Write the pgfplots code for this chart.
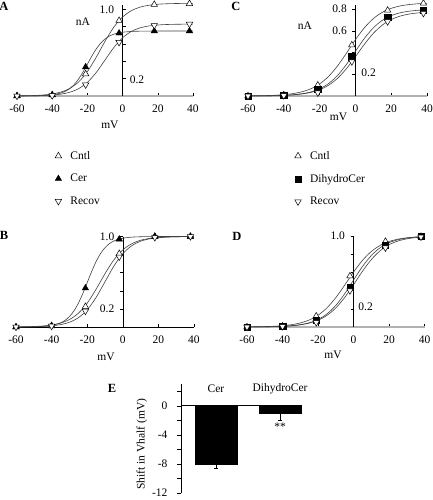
\documentclass[border=0pt]{standalone}
\usepackage{fontspec}
\setmainfont{Liberation Serif}
\usepackage{pgfplots}
\pgfplotsset{compat=1.18}
\newcommand\tf{\fontsize{11.5}{13}\selectfont}
\pgfplotsset{
  iv/.style={
    scale only axis, clip=false,
    axis lines*=middle,
    xmin=-60, xmax=40, ymin=0,
    xtick={-60,-40,-20,0,20,40},
    hide obscured x ticks=false, hide obscured y ticks=false,
    tick align=inside, major tick length=3pt,
    tick style={black, line width=0.5pt},
    x axis line style={gray!60, line width=1.2pt},
    y axis line style={black, line width=0.5pt},
    tick label style={font=\tf},
    xticklabel style={yshift=-5pt},
    yticklabel style={xshift=-5pt},
    /pgf/number format/assume math mode=true,
    xlabel={mV}, xlabel style={font=\tf, anchor=center},
    legend cell align=left,
    legend style={draw=none, fill=none, font=\tf, row sep=9.5pt, anchor=north west},
  },
  legimg/.style={legend image code/.code={\path[draw=none,fill=none] (0pt,0pt) -- (16pt,0pt); \path[##1] plot[only marks] coordinates {(6pt,0pt)};}},
  fitc/.style={black!75, line width=0.6pt, smooth, no marks, forget plot},
  mCntl/.style={only marks, mark=triangle*, mark size=3.7pt, mark options={fill=white, draw=black, line width=0.5pt}, legimg},
  mCer/.style={only marks, mark=triangle*, mark size=3.7pt, mark options={fill=black, draw=black}, legimg},
  mRec/.style={only marks, mark=triangle*, mark size=3.7pt, mark options={rotate=180, fill=white, draw=black, line width=0.5pt}, legimg},
  mDih/.style={only marks, mark=square*, mark size=3.2pt, mark options={fill=black, draw=black}, legimg},
}
\begin{document}
\begin{tikzpicture}
\useasboundingbox (0,0) rectangle (432pt,-500pt);

% ---------------- A ----------------
\begin{axis}[iv, at={(17pt,-96pt)}, anchor=south west, width=176pt, height=91pt, ymax=1.05,
  ytick={0.2,0.4,0.6,0.8,1.0}, yticklabels={,,,,1.0},
  xlabel style={at={(axis description cs:0.528,-0.319)}},
  legend style={at={(axis description cs:0.183,-0.56)}}]
\addplot[fitc] coordinates {(-60,0.0015)(-55,0.003)(-50,0.0059)(-45,0.0118)(-40,0.0233)(-35,0.0456)(-30,0.0876)(-25,0.1622)(-20,0.2818)(-15,0.4466)(-10,0.6306)(-5,0.7937)(0,0.9116)(5,0.9845)(10,1.0256)(15,1.0473)(20,1.0586)(25,1.0642)(30,1.0671)(35,1.0686)(40,1.0693)};
\addplot[fitc] coordinates {(-60,0.0002)(-55,0.0007)(-50,0.0018)(-45,0.0048)(-40,0.0130)(-35,0.0342)(-32.5,0.0548)(-30,0.0863)(-27.5,0.1325)(-25,0.1959)(-22.5,0.2762)(-20,0.3675)(-17.5,0.4598)(-15,0.5423)(-12.5,0.6086)(-10,0.6574)(-7.5,0.6910)(-5,0.7131)(-2.5,0.7272)(0,0.7360)(5,0.7448)(10,0.7481)(15,0.7493)(20,0.7498)(30,0.75)(40,0.75)};
\addplot[fitc] coordinates {(-60,0.0006)(-55,0.0012)(-50,0.0025)(-45,0.0052)(-40,0.0106)(-35,0.0216)(-30,0.0433)(-25,0.0847)(-20,0.1579)(-15,0.2709)(-10,0.4150)(-5,0.5591)(0,0.6721)(5,0.7453)(10,0.7867)(15,0.8084)(20,0.8194)(25,0.8249)(30,0.8275)(35,0.8288)(40,0.8294)};
\addplot[mCntl] coordinates {(-60,0.002)(-40,0.015)(-21,0.254)(-2,0.87)(18,1.055)(38,1.065)};
\addlegendentry{Cntl}
\addplot[mCer] coordinates {(-60,0.0)(-40,0.01)(-21,0.335)(-2,0.725)(18,0.75)(38,0.75)};
\addlegendentry{Cer}
\addplot[mRec] coordinates {(-60,0.0)(-40,0.005)(-21,0.13)(-2,0.62)(18,0.815)(38,0.83)};
\addlegendentry{Recov}
\node[font=\tf] at (axis cs:-22.5,0.857) {nA};
\node[font=\tf] at (axis cs:8.2,0.185) {0.2};
\end{axis}

% ---------------- C ----------------
\begin{axis}[iv, at={(248pt,-96pt)}, anchor=south west, width=179pt, height=91.1pt, ymax=0.84,
  ytick={0.2,0.4,0.6,0.8}, yticklabels={,,0.6,0.8},
  ytick style={xshift=-3pt},
  xlabel style={at={(axis description cs:0.506,-0.23)}},
  legend style={at={(axis description cs:0.228,-0.56)}}]
\addplot[fitc] coordinates {(-60,0.0012)(-55,0.0022)(-50,0.0039)(-45,0.0069)(-40,0.0123)(-35,0.0218)(-30,0.0382)(-25,0.0660)(-20,0.1112)(-15,0.1805)(-10,0.2771)(-5,0.3950)(0,0.5188)(5,0.6287)(10,0.7132)(15,0.7713)(20,0.8081)(25,0.8302)(30,0.8431)(35,0.8505)(40,0.8547)};
\addplot[fitc] coordinates {(-60,0.0005)(-55,0.0010)(-50,0.0018)(-45,0.0033)(-40,0.0060)(-35,0.0111)(-30,0.0204)(-25,0.0371)(-20,0.0662)(-15,0.1145)(-10,0.1890)(-5,0.2916)(0,0.4123)(5,0.5308)(10,0.6282)(15,0.6972)(20,0.7410)(25,0.7671)(30,0.7818)(35,0.7902)(40,0.7946)};
\addplot[fitc] coordinates {(-60,0.0005)(-55,0.0010)(-50,0.0018)(-45,0.0032)(-40,0.0057)(-35,0.0103)(-30,0.0186)(-25,0.0330)(-20,0.0579)(-15,0.0990)(-10,0.1627)(-5,0.2523)(0,0.3622)(5,0.4767)(10,0.5775)(15,0.6536)(20,0.7049)(25,0.7367)(30,0.7555)(35,0.7663)(40,0.7724)};
\addplot[mCntl] coordinates {(-60,0.0)(-40,0.01)(-21,0.10)(-2,0.47)(18,0.79)(38,0.855)};
\addlegendentry{Cntl}
\addplot[mDih] coordinates {(-60,0.0)(-40,0.005)(-21,0.06)(-2,0.363)(18,0.726)(38,0.79)};
\addlegendentry{DihydroCer}
\addplot[mRec] coordinates {(-60,0.0)(-40,0.004)(-21,0.03)(-2,0.317)(18,0.686)(38,0.763)};
\addlegendentry{Recov}
\node[font=\tf] at (axis cs:-28.2,0.646) {nA};
\node[font=\tf] at (axis cs:7.4,0.212) {0.2};
\end{axis}

% ---------------- B ----------------
\begin{axis}[iv, at={(16pt,-327pt)}, anchor=south west, width=178pt, height=90.5pt, ymax=1.0,
  x axis line style={black, line width=0.5pt},
  ytick={0.2,0.4,0.6,0.8,1.0}, yticklabels={0.2,,,,1.0},
  ytick style={xshift=-3pt},
  xlabel style={at={(axis description cs:0.506,-0.33)}}]
\addplot[fitc] coordinates {(-60,0.0014)(-55,0.0028)(-50,0.0055)(-45,0.0110)(-40,0.0218)(-35,0.0427)(-30,0.0819)(-25,0.1516)(-20,0.2634)(-15,0.4174)(-10,0.5893)(-5,0.7418)(0,0.8520)(5,0.9201)(10,0.9585)(15,0.9788)(20,0.9893)(25,0.9946)(30,0.9973)(35,0.9987)(40,0.9993)};
\addplot[fitc] coordinates {(-60,0.0003)(-55,0.0009)(-50,0.0024)(-45,0.0064)(-40,0.0173)(-35,0.0457)(-32.5,0.0731)(-30,0.1150)(-27.5,0.1766)(-25,0.2612)(-22.5,0.3682)(-20,0.4900)(-17.5,0.6130)(-15,0.7231)(-12.5,0.8115)(-10,0.8765)(-7.5,0.9213)(-5,0.9508)(-2.5,0.9696)(0,0.9813)(5,0.9930)(10,0.9974)(15,0.9991)(20,0.9997)(30,1.0)(40,1.0)};
\addplot[fitc] coordinates {(-60,0.0007)(-55,0.0015)(-50,0.0030)(-45,0.0062)(-40,0.0128)(-35,0.0260)(-30,0.0522)(-25,0.1021)(-20,0.1902)(-15,0.3264)(-10,0.5)(-5,0.6736)(0,0.8098)(5,0.8979)(10,0.9478)(15,0.9740)(20,0.9872)(25,0.9938)(30,0.9970)(35,0.9985)(40,0.9993)};
\addplot[mCntl] coordinates {(-60,0.0)(-40,0.01)(-21,0.225)(-2,0.81)(18,1.0)(38,1.0)};
\addplot[mCer] coordinates {(-60,0.0)(-40,0.015)(-21,0.43)(-2,0.97)(18,1.0)(38,1.0)};
\addplot[mRec] coordinates {(-60,0.0)(-40,0.01)(-21,0.176)(-2,0.775)(18,0.99)(38,1.0)};
\end{axis}

% ---------------- D ----------------
\begin{axis}[iv, at={(247pt,-327pt)}, anchor=south west, width=177.5pt, height=91pt, ymax=1.0,
  ytick={0.2,0.4,0.6,0.8,1.0}, yticklabels={,,,,1.0},
  ytick style={xshift=-3pt},
  xlabel style={at={(axis description cs:0.485,-0.31)}}]
\addplot[fitc] coordinates {(-60,0.0014)(-55,0.0025)(-50,0.0045)(-45,0.0081)(-40,0.0143)(-35,0.0253)(-30,0.0444)(-25,0.0767)(-20,0.1293)(-15,0.2099)(-10,0.3222)(-5,0.4593)(0,0.6033)(5,0.7311)(10,0.8293)(15,0.8969)(20,0.9396)(25,0.9653)(30,0.9803)(35,0.9889)(40,0.9938)};
\addplot[fitc] coordinates {(-60,0.0007)(-55,0.0012)(-50,0.0022)(-45,0.0041)(-40,0.0076)(-35,0.0139)(-30,0.0255)(-25,0.0463)(-20,0.0827)(-15,0.1431)(-10,0.2363)(-5,0.3645)(0,0.5154)(5,0.6635)(10,0.7852)(15,0.8715)(20,0.9263)(25,0.9589)(30,0.9773)(35,0.9877)(40,0.9933)};
\addplot[fitc] coordinates {(-60,0.0007)(-55,0.0012)(-50,0.0023)(-45,0.0041)(-40,0.0074)(-35,0.0133)(-30,0.0238)(-25,0.0423)(-20,0.0742)(-15,0.1269)(-10,0.2086)(-5,0.3235)(0,0.4643)(5,0.6111)(10,0.7404)(15,0.8379)(20,0.9037)(25,0.9445)(30,0.9686)(35,0.9824)(40,0.9902)};
\addplot[mCntl] coordinates {(-60,0.0)(-40,0.01)(-21,0.12)(-2,0.56)(18,0.94)(38,0.995)};
\addplot[mDih] coordinates {(-60,0.0)(-40,0.006)(-21,0.075)(-2,0.44)(18,0.90)(38,0.995)};
\addplot[mRec] coordinates {(-60,0.0)(-40,0.006)(-21,0.05)(-2,0.40)(18,0.87)(38,0.99)};
\node[font=\tf] at (axis cs:6.8,0.223) {0.2};
\end{axis}

% ---------------- E ----------------
\begin{axis}[scale only axis, clip=false,
  at={(181pt,-493pt)}, anchor=south west, width=121pt, height=109pt,
  xmin=0, xmax=121, ymin=-12, ymax=3,
  axis y line*=left, axis x line*=middle,
  x axis line style={black, line width=1.3pt},
  y axis line style={black, line width=0.5pt},
  hide obscured y ticks=false,
  xtick=\empty, ytick={-12,-8,-4,0}, minor ytick={-10,-6,-2,2},
  tick align=outside, major tick length=4pt, minor tick length=4pt,
  tick style={black, line width=0.5pt},
  yticklabel style={font=\tf, xshift=-6pt},
  /pgf/number format/assume math mode=true,
  ylabel={Shift in Vhalf (mV)},
  ylabel style={at={(axis description cs:-0.325,0.45)}, anchor=center, font=\tf}]
\addplot[ybar, bar width=42pt, fill=black, draw=black,
  error bars/.cd, y dir=minus, y explicit,
  error bar style={line width=0.8pt, black},
  error mark options={rotate=90, mark size=2pt, black}]
  coordinates {(35,-8.1) +- (0,0.5) (99,-1.0) +- (0,1.0)};
\node[font=\tf] at (axis cs:35,2.3) {Cer};
\node[font=\tf] at (axis cs:99,2.3) {DihydroCer};
\node[font=\tf] at (axis cs:99,-2.9) {**};
\end{axis}

% panel letters
\node[font=\fontsize{12.5}{14}\selectfont\bfseries] at (4pt,-6pt) {A};
\node[font=\fontsize{12.5}{14}\selectfont\bfseries] at (236pt,-6pt) {C};
\node[font=\fontsize{12.5}{14}\selectfont\bfseries] at (4pt,-235pt) {B};
\node[font=\fontsize{12.5}{14}\selectfont\bfseries] at (237pt,-236pt) {D};
\node[font=\fontsize{12.5}{14}\selectfont\bfseries] at (112pt,-388pt) {E};
\end{tikzpicture}
\end{document}
